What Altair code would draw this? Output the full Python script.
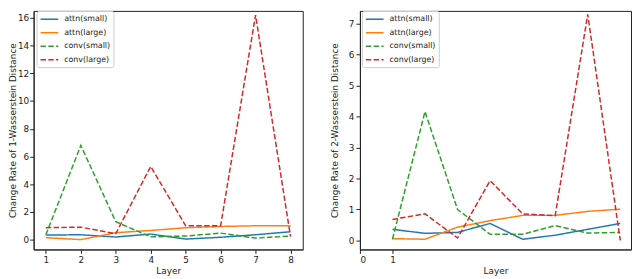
import altair as alt
import pandas as pd

series = ["attn(small)", "attn(large)", "conv(small)", "conv(large)"]
colors = ["#1f77b4", "#ff7f0e", "#2ca02c", "#d62728"]
dashes = [[1, 0], [1, 0], [5.5, 2.4], [5.5, 2.4]]
layers = [1, 2, 3, 4, 5, 6, 7, 8]

w1_attn_small = [0.33, 0.35, 0.19, 0.40, 0.04, 0.17, 0.35, 0.57]
w1_attn_large = [0.14, 0.00, 0.50, 0.66, 0.86, 0.95, 1.00, 1.00]
w1_conv_small = [0.35, 6.80, 1.29, 0.20, 0.26, 0.47, 0.11, 0.26]
w1_conv_large = [0.86, 0.90, 0.43, 5.28, 1.00, 1.00, 16.20, 0.22]

w2_attn_small = [0.36, 0.23, 0.26, 0.55, 0.04, 0.17, 0.36, 0.55]
w2_attn_large = [0.06, 0.04, 0.43, 0.64, 0.81, 0.81, 0.94, 1.01]
w2_conv_small = [0.04, 4.16, 1.00, 0.20, 0.20, 0.48, 0.24, 0.26]
w2_conv_large = [0.68, 0.86, 0.08, 1.93, 0.86, 0.80, 7.30, 0.00]

left_yticks = [0, 2, 4, 6, 8, 10, 12, 14, 16]
right_yticks = [0, 1, 2, 3, 4, 5, 6, 7]
left_xticks = [1, 2, 3, 4, 5, 6, 7, 8]
right_xticks = [0, 1]


def frame(vals):
    rows = []
    for s, v in zip(series, vals):
        for l, y in zip(layers, v):
            rows.append({"Layer": l, "value": y, "series": s})
    return pd.DataFrame(rows)


df1 = frame([w1_attn_small, w1_attn_large, w1_conv_small, w1_conv_large])
df2 = frame([w2_attn_small, w2_attn_large, w2_conv_small, w2_conv_large])


def legend(x):
    return alt.Legend(
        title=None, orient="none", legendX=x, legendY=0,
        symbolType="M-1,0H3", symbolSize=81, symbolStrokeWidth=1.5,
        labelFontSize=8, labelFont="DejaVu Sans", labelColor="#222",
        labelOffset=14, rowPadding=3.7, padding=3,
        strokeColor="#cccccc", fillColor="white", cornerRadius=2,
    )


def panel(df, xdom, xticks, ydom, yticks, ytitle, lx, tpad, lpad, w):
    return alt.Chart(df).mark_line(strokeWidth=1.5).encode(
        x=alt.X("Layer:Q", scale=alt.Scale(domain=xdom, nice=False, zero=False),
                axis=alt.Axis(values=xticks, title="Layer", format="d")),
        y=alt.Y("value:Q", scale=alt.Scale(domain=ydom, nice=False, zero=False),
                axis=alt.Axis(values=yticks, title=ytitle, titlePadding=tpad,
                              labelPadding=lpad, format="d")),
        color=alt.Color("series:N", scale=alt.Scale(domain=series, range=colors),
                        sort=series, legend=legend(lx)),
        strokeDash=alt.StrokeDash("series:N", scale=alt.Scale(domain=series, range=dashes),
                                  sort=series, legend=legend(lx)),
        order=alt.Order("ord:Q"),
    ).transform_calculate(
        ord="indexof(['attn(small)','attn(large)','conv(small)','conv(large)'], datum.series)"
    ).properties(width=w, height=242)


left = panel(df1, [0.65, 8.35], left_xticks, [-0.71, 16.5], left_yticks,
             "Change Rate of 1-Wasserstein Distance", 3, 0, 1, 273)
right = panel(df2, [0.0, 8.33], right_xticks, [-0.29, 7.41], right_yticks,
              "Change Rate of 2-Wasserstein Distance", 2, 8.8, 2, 275)

chart = alt.hconcat(left, right, spacing=26).resolve_scale(
    color="independent", strokeDash="independent"
).resolve_legend(
    color="independent", strokeDash="independent"
).configure(
    padding=0, background="white", font="DejaVu Sans"
).configure_view(
    stroke="#222", strokeWidth=1
).configure_axis(
    grid=False, labelFont="DejaVu Sans", titleFont="DejaVu Sans",
    labelFontSize=9, titleFontSize=9, titleFontWeight="normal",
    labelColor="#222", titleColor="#222", tickColor="#222", domainColor="#222",
    tickSize=4,
).configure_axisX(titlePadding=2, labelPadding=2)

chart.save("out.html", embed_options={"renderer": "svg", "actions": False})
